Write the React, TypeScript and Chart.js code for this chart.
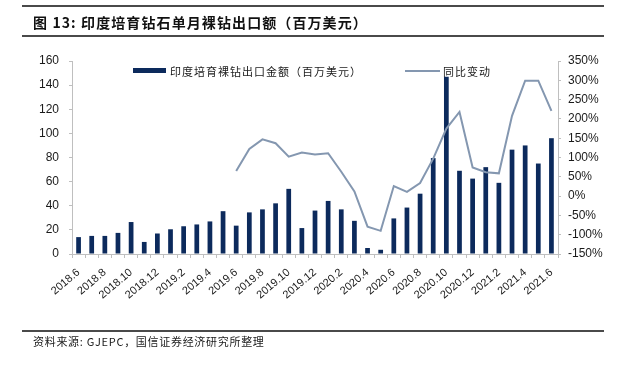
import React, { useEffect, useRef } from "react";
import { Chart, registerables } from "chart.js";

Chart.register(...registerables);

const months: string[] = [
  "2018.6", "2018.7", "2018.8", "2018.9", "2018.10", "2018.11", "2018.12",
  "2019.1", "2019.2", "2019.3", "2019.4", "2019.5", "2019.6", "2019.7", "2019.8", "2019.9", "2019.10", "2019.11", "2019.12",
  "2020.1", "2020.2", "2020.3", "2020.4", "2020.5", "2020.6", "2020.7", "2020.8", "2020.9", "2020.10", "2020.11", "2020.12",
  "2021.1", "2021.2", "2021.3", "2021.4", "2021.5", "2021.6",
];

const exportValue: number[] = [
  14, 15, 15, 17.5, 26.5, 10, 17,
  20.5, 23, 24.5, 27, 35.5, 23.5, 34.5, 37, 42, 54, 21.5, 36,
  44, 37, 27.5, 5, 3.5, 29.5, 38.5, 50, 79.5, 147, 69, 62.5,
  72, 59, 86.5, 90, 75, 96,
];

const yoyChange: (number | null)[] = [
  null, null, null, null, null, null, null,
  null, null, null, null, null, 65, 122, 147, 137, 102, 113, 108,
  111, 63, 12, -79, -90, 26, 11, 34, 97, 175, 218, 74,
  62, 59, 208, 299, 299, 221,
];

const leftTicks = { min: 0, max: 160, step: 20 };
const rightTicks = { min: -150, max: 350, step: 50 };

const barName = "印度培育裸钻出口金额（百万美元）";
const lineName = "同比变动";
const titleText = "图 13:  印度培育钻石单月裸钻出口额（百万美元）";
const sourceText = "资料来源: GJEPC，国信证券经济研究所整理";

const NAVY = "#0c2a5c";
const LINE = "#8497b0";
const AXIS = "#bfbfbf";
const TEXT = "#1a1a1a";
const CJK = '"Noto Sans CJK SC", "Liberation Sans", sans-serif';
const LATIN = '"Liberation Sans", Arial, sans-serif';

export default function App() {
  const canvasRef = useRef<HTMLCanvasElement | null>(null);

  useEffect(() => {
    const canvas = canvasRef.current;
    if (!canvas) return;
    const chart = new Chart(canvas, {
      type: "bar",
      data: {
        labels: months,
        datasets: [
          {
            type: "line",
            label: lineName,
            data: yoyChange,
            yAxisID: "y1",
            borderColor: LINE,
            backgroundColor: LINE,
            borderWidth: 2,
            pointRadius: 0,
            tension: 0,
            order: 0,
          } as any,
          {
            type: "bar",
            label: barName,
            data: exportValue,
            yAxisID: "y",
            backgroundColor: NAVY,
            borderWidth: 0,
            categoryPercentage: 1,
            barPercentage: 0.36,
            order: 1,
          } as any,
        ],
      },
      options: {
        responsive: false,
        animation: false,
        devicePixelRatio: 1,
        layout: { padding: { top: 61, left: 0, right: 0, bottom: 0 } },
        plugins: {
          legend: { display: false },
          title: { display: false },
          tooltip: { enabled: false },
        },
        scales: {
          x: {
            offset: true,
            grid: {
              display: true,
              offset: true,
              drawOnChartArea: false,
              drawTicks: true,
              tickLength: 4,
              color: AXIS,
            },
            border: { display: true, color: AXIS, width: 1 },
            ticks: {
              autoSkip: false,
              maxRotation: 40,
              minRotation: 40,
              padding: 8,
              color: TEXT,
              font: { family: LATIN, size: 11 },
              callback: (_v: any, i: number) => (i % 2 === 0 ? months[i] : ""),
            },
            afterFit: (s: any) => {
              s.height = 116;
            },
          },
          y: {
            position: "left",
            min: leftTicks.min,
            max: leftTicks.max,
            grid: {
              display: true,
              drawOnChartArea: false,
              drawTicks: true,
              tickLength: 3,
              color: AXIS,
            },
            border: { display: true, color: AXIS, width: 1 },
            ticks: {
              stepSize: leftTicks.step,
              padding: 10,
              color: TEXT,
              font: { family: LATIN, size: 12 },
            },
            afterFit: (s: any) => {
              s.width = 72;
            },
          },
          y1: {
            position: "right",
            min: rightTicks.min,
            max: rightTicks.max,
            grid: {
              display: true,
              drawOnChartArea: false,
              drawTicks: true,
              tickLength: 3,
              color: AXIS,
            },
            border: { display: true, color: AXIS, width: 1 },
            ticks: {
              stepSize: rightTicks.step,
              padding: 7,
              color: TEXT,
              font: { family: LATIN, size: 12 },
              callback: (v: any) => `${v}%`,
            },
            afterFit: (s: any) => {
              s.width = 82;
            },
          },
        },
      } as any,
    });
    return () => chart.destroy();
  }, []);

  const rule = (top: number): React.CSSProperties => ({
    position: "absolute",
    left: 22,
    width: 582,
    top,
    height: 2,
    background: "#4a4a4a",
  });

  return (
    <div
      style={{
        position: "absolute",
        left: 0,
        top: 0,
        width: 640,
        height: 370,
        background: "#ffffff",
        overflow: "hidden",
      }}
    >
      <canvas
        ref={canvasRef}
        width={640}
        height={370}
        style={{ position: "absolute", left: 0, top: 0, width: 640, height: 370 }}
      />
      <div style={rule(5)} />
      <div
        style={{
          position: "absolute",
          left: 33,
          top: 12,
          height: 20,
          lineHeight: "20px",
          fontFamily: CJK,
          fontWeight: 700,
          fontSize: 14,
          letterSpacing: 1.1,
          color: "#111",
          whiteSpace: "nowrap",
        }}
      >
        {titleText}
      </div>
      <div style={rule(35)} />

      <div
        style={{
          position: "absolute",
          left: 133,
          top: 68,
          width: 33,
          height: 5,
          background: NAVY,
        }}
      />
      <div
        style={{
          position: "absolute",
          left: 170,
          top: 62,
          height: 18,
          lineHeight: "18px",
          fontFamily: CJK,
          fontSize: 11,
          letterSpacing: 1,
          color: TEXT,
          whiteSpace: "nowrap",
        }}
      >
        {barName}
      </div>
      <div
        style={{
          position: "absolute",
          left: 405,
          top: 70,
          width: 35,
          height: 2,
          background: LINE,
        }}
      />
      <div
        style={{
          position: "absolute",
          left: 443,
          top: 62,
          height: 18,
          lineHeight: "18px",
          fontFamily: CJK,
          fontSize: 11,
          letterSpacing: 1,
          color: TEXT,
          whiteSpace: "nowrap",
        }}
      >
        {lineName}
      </div>

      <div style={rule(330)} />
      <div
        style={{
          position: "absolute",
          left: 33,
          top: 333,
          height: 16,
          lineHeight: "16px",
          fontFamily: CJK,
          fontSize: 11,
          letterSpacing: 0.7,
          color: TEXT,
          whiteSpace: "nowrap",
        }}
      >
        {sourceText}
      </div>
    </div>
  );
}
